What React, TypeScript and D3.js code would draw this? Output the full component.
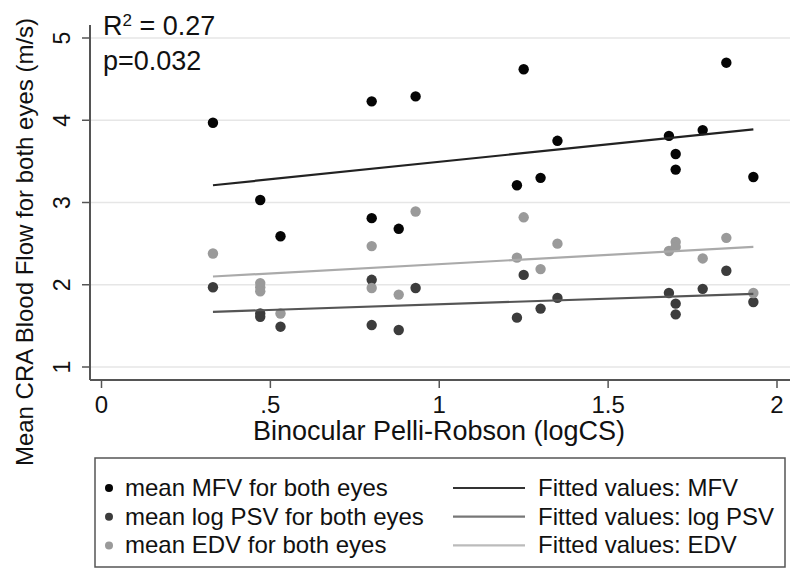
import React, { useEffect, useRef } from "react";
import * as d3 from "d3";

// mean MFV for both eyes
const mfvX = [0.33, 0.47, 0.53, 0.8, 0.8, 0.88, 0.93, 1.23, 1.25, 1.3, 1.35, 1.68, 1.7, 1.7, 1.78, 1.85, 1.93];
const mfvY = [3.97, 3.03, 2.59, 4.23, 2.81, 2.68, 4.29, 3.21, 4.62, 3.3, 3.75, 3.81, 3.59, 3.4, 3.88, 4.7, 3.31];

// mean log PSV for both eyes
const psvX = [0.33, 0.47, 0.47, 0.53, 0.8, 0.8, 0.88, 0.93, 1.23, 1.25, 1.3, 1.35, 1.68, 1.7, 1.7, 1.78, 1.85, 1.93];
const psvY = [1.97, 1.65, 1.61, 1.49, 2.06, 1.51, 1.45, 1.96, 1.6, 2.12, 1.71, 1.84, 1.9, 1.77, 1.64, 1.95, 2.17, 1.79];

// mean EDV for both eyes
const edvX = [0.33, 0.47, 0.47, 0.47, 0.53, 0.8, 0.8, 0.88, 0.93, 1.23, 1.25, 1.3, 1.35, 1.68, 1.7, 1.7, 1.78, 1.85, 1.93];
const edvY = [2.38, 2.02, 1.97, 1.92, 1.65, 2.47, 1.96, 1.88, 2.89, 2.33, 2.82, 2.19, 2.5, 2.41, 2.52, 2.46, 2.32, 2.57, 1.9];

// fitted values at the ends of the x range
const fitX = [0.33, 1.93];
const fitMFV = [3.21, 3.89];
const fitPSV = [1.67, 1.89];
const fitEDV = [2.1, 2.46];

const xTicks = [0, 0.5, 1, 1.5, 2];
const xTickLabels = ["0", ".5", "1", "1.5", "2"];
const yTicks = [1, 2, 3, 4, 5];

const FONT = "'Liberation Sans', Arial, Helvetica, sans-serif";

const App = () => {
  const ref = useRef<SVGSVGElement>(null);

  useEffect(() => {
    const svg = d3.select(ref.current);
    svg.selectAll("*").remove();

    const x = d3.scaleLinear().domain([0, 2]).range([101.5, 777]);
    const y = d3.scaleLinear().domain([1, 5]).range([367, 38]);

    const left = 90, right = 790, top = 25, bottom = 380;

    // grid
    svg.append("g")
      .selectAll("line")
      .data(yTicks)
      .enter()
      .append("line")
      .attr("x1", left)
      .attr("x2", right)
      .attr("y1", (d) => y(d))
      .attr("y2", (d) => y(d))
      .attr("stroke", "#e6e6e6")
      .attr("stroke-width", 1.5);

    // axes lines
    svg.append("line")
      .attr("x1", left).attr("x2", left).attr("y1", top).attr("y2", bottom)
      .attr("stroke", "#555").attr("stroke-width", 2);
    svg.append("line")
      .attr("x1", left).attr("x2", right).attr("y1", bottom).attr("y2", bottom)
      .attr("stroke", "#555").attr("stroke-width", 2);

    // y ticks
    const yt = svg.append("g").selectAll("g").data(yTicks).enter().append("g");
    yt.append("line")
      .attr("x1", left - 8).attr("x2", left)
      .attr("y1", (d) => y(d)).attr("y2", (d) => y(d))
      .attr("stroke", "#555").attr("stroke-width", 1.5);
    yt.append("text")
      .attr("transform", (d) => `translate(70,${y(d)}) rotate(-90)`)
      .attr("text-anchor", "middle")
      .attr("font-family", FONT)
      .attr("font-size", 23)
      .attr("fill", "#111")
      .text((d) => String(d));

    // x ticks
    const xt = svg.append("g").selectAll("g").data(xTicks).enter().append("g");
    xt.append("line")
      .attr("x1", (d) => x(d)).attr("x2", (d) => x(d))
      .attr("y1", bottom).attr("y2", bottom + 8)
      .attr("stroke", "#555").attr("stroke-width", 1.5);
    xt.append("text")
      .attr("x", (d) => x(d))
      .attr("y", 413)
      .attr("text-anchor", "middle")
      .attr("font-family", FONT)
      .attr("font-size", 24)
      .attr("fill", "#111")
      .text((d, i) => xTickLabels[i]);

    // axis titles
    svg.append("text")
      .attr("x", 439)
      .attr("y", 440)
      .attr("text-anchor", "middle")
      .attr("font-family", FONT)
      .attr("font-size", 27)
      .attr("fill", "#111")
      .text("Binocular Pelli-Robson (logCS)");
    svg.append("text")
      .attr("transform", "translate(33,242) rotate(-90)")
      .attr("text-anchor", "middle")
      .attr("font-family", FONT)
      .attr("font-size", 24)
      .attr("fill", "#111")
      .text("Mean CRA Blood Flow for both eyes (m/s)");

    // points
    const series = [
      { xs: mfvX, ys: mfvY, color: "#050505" },
      { xs: psvX, ys: psvY, color: "#3c3c3c" },
      { xs: edvX, ys: edvY, color: "#9a9a9a" },
    ];
    series.forEach((s) => {
      svg.append("g")
        .selectAll("circle")
        .data(s.xs.map((v, i) => [v, s.ys[i]]))
        .enter()
        .append("circle")
        .attr("cx", (d) => x(d[0]))
        .attr("cy", (d) => y(d[1]))
        .attr("r", 5.2)
        .attr("fill", s.color);
    });

    // fitted lines
    const line = d3.line<number[]>().x((d) => x(d[0])).y((d) => y(d[1]));
    const fits = [
      { ys: fitMFV, color: "#222" },
      { ys: fitPSV, color: "#555" },
      { ys: fitEDV, color: "#aaa" },
    ];
    fits.forEach((f) => {
      svg.append("path")
        .attr("d", line(fitX.map((v, i) => [v, f.ys[i]])))
        .attr("fill", "none")
        .attr("stroke", f.color)
        .attr("stroke-width", 2.2);
    });

    // annotation
    const r2 = svg.append("text")
      .attr("x", 103).attr("y", 35)
      .attr("font-family", FONT).attr("font-size", 27).attr("fill", "#111");
    r2.append("tspan").text("R");
    r2.append("tspan").attr("dy", -9).attr("font-size", 17).text("2");
    r2.append("tspan").attr("dy", 9).text(" = 0.27");
    svg.append("text")
      .attr("x", 103).attr("y", 70)
      .attr("font-family", FONT).attr("font-size", 27).attr("fill", "#111")
      .text("p=0.032");

    // legend
    svg.append("rect")
      .attr("x", 95).attr("y", 458).attr("width", 690).attr("height", 109)
      .attr("fill", "#fff").attr("stroke", "#555").attr("stroke-width", 1.5);
    const legendRows = [
      { label: "mean MFV for both eyes", dot: "#050505", fit: "Fitted values: MFV", line: "#333" },
      { label: "mean log PSV for both eyes", dot: "#3c3c3c", fit: "Fitted values: log PSV", line: "#777" },
      { label: "mean EDV for both eyes", dot: "#9a9a9a", fit: "Fitted values: EDV", line: "#bbb" },
    ];
    const lg = svg.append("g").selectAll("g").data(legendRows).enter().append("g")
      .attr("transform", (d, i) => `translate(0,${488 + i * 28.7})`);
    lg.append("circle").attr("cx", 109).attr("cy", 0).attr("r", 4).attr("fill", (d) => d.dot);
    lg.append("text")
      .attr("x", 125).attr("y", 8)
      .attr("font-family", FONT).attr("font-size", 24).attr("fill", "#111")
      .text((d) => d.label);
    lg.append("line")
      .attr("x1", 453).attr("x2", 525).attr("y1", 0).attr("y2", 0)
      .attr("stroke", (d) => d.line).attr("stroke-width", 2.2);
    lg.append("text")
      .attr("x", 538).attr("y", 8)
      .attr("font-family", FONT).attr("font-size", 24).attr("fill", "#111")
      .text((d) => d.fit);
  }, []);

  return (
    <svg
      ref={ref}
      width="800"
      height="581"
      style={{ position: "absolute", left: 0, top: 0, background: "#fff" }}
    ></svg>
  );
};

export default App;
